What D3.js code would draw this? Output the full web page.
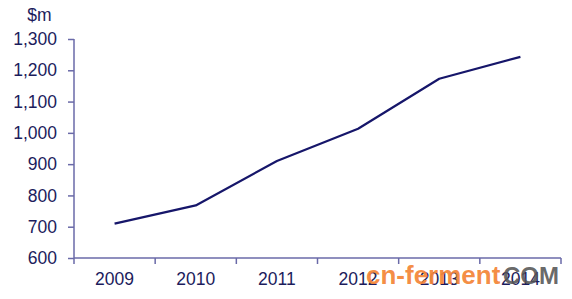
<!DOCTYPE html>
<html><head><meta charset="utf-8">
<script src="https://cdn.jsdelivr.net/npm/d3@7"></script>
<style>body{margin:0;background:#fff}svg{display:block}</style>
</head><body>
<script>
const years = ["2009","2010","2011","2012","2013","2014"];
const values = [710, 768, 910, 1013, 1173, 1243];
const yTicks = [600,700,800,900,1000,1100,1200,1300];
const unitLabel = "$m";

const W = 572, H = 299;
const m = {left: 74, right: 11, top: 39, bottom: 41};
const svg = d3.select("body").append("svg").attr("width", W).attr("height", H);

const x = d3.scaleBand().domain(years).range([m.left, W - m.right]);
const y = d3.scaleLinear().domain([600, 1300]).range([H - m.bottom, m.top]);

const axisCol = "#6a6aa8", textCol = "#1c1c5c", lineCol = "#16166a";
const font = "Liberation Sans, Arial, sans-serif";
const fs = 17.5;

// Y axis
const ya = svg.append("g").attr("transform", `translate(${m.left},0)`)
  .call(d3.axisLeft(y).tickValues(yTicks).tickSize(6).tickPadding(11).tickFormat(d3.format(",")));
ya.select(".domain").attr("stroke", axisCol).attr("stroke-width", 1.5).attr("d", `M0,${y(1300)}V${y(600)}`);
ya.selectAll(".tick line").attr("stroke", axisCol).attr("stroke-width", 1.5);
ya.selectAll("text").attr("fill", textCol).attr("font-family", font).attr("font-size", fs);

// X axis
const xa = svg.append("g").attr("transform", `translate(0,${H - m.bottom})`)
  .call(d3.axisBottom(x).tickSize(0).tickPadding(15));
xa.select(".domain").attr("stroke", axisCol).attr("stroke-width", 1.5).attr("d", `M${m.left},0H${W - m.right}`);
xa.selectAll("text").attr("fill", textCol).attr("font-family", font).attr("font-size", fs);
// category boundary ticks
const bounds = years.map(d => x(d)).concat([x(years[years.length-1]) + x.bandwidth()]);
xa.selectAll(".bnd").data(bounds).enter().append("line")
  .attr("x1", d => d).attr("x2", d => d).attr("y1", 0).attr("y2", 6)
  .attr("stroke", axisCol).attr("stroke-width", 1.5);

// unit label
svg.append("text").attr("x", 39.5).attr("y", 21).attr("text-anchor", "middle")
  .attr("fill", textCol).attr("font-family", font).attr("font-size", fs).text(unitLabel);

// line
const line = d3.line().x((d, i) => x(years[i]) + x.bandwidth() / 2).y(d => y(d));
svg.append("path").datum(values).attr("d", line).attr("fill", "none")
  .attr("stroke", lineCol).attr("stroke-width", 2.2).attr("stroke-linejoin", "round");

// watermark
svg.append("text").attr("x", 366).attr("y", 284).attr("font-family", font).attr("font-weight", "bold")
  .attr("font-size", 26).attr("fill", "#f4873a").attr("fill-opacity", 0.95).text("cn-ferment");
svg.append("text").attr("x", 503).attr("y", 284).attr("font-family", font).attr("font-weight", "bold")
  .attr("font-size", 24).attr("fill", "#555555").attr("fill-opacity", 0.9).text("COM");
</script>
</body></html>
